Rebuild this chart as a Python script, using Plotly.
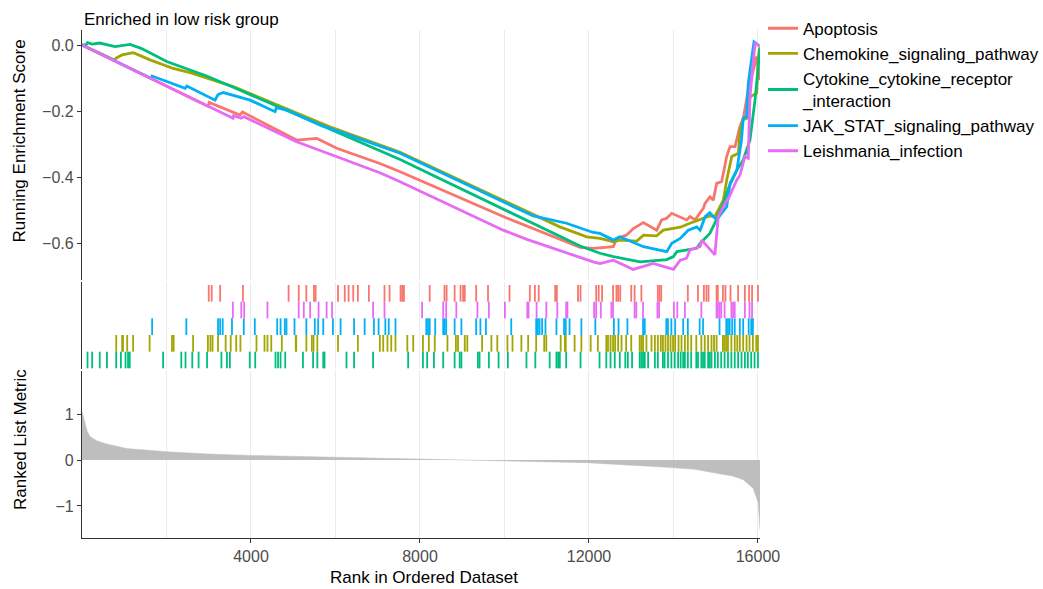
import plotly.graph_objects as go

FONT = "Liberation Sans, Arial, sans-serif"
N_GENES = 16048

# gene sets, in legend order
set_names = [
    "Apoptosis",
    "Chemokine_signaling_pathway",
    "Cytokine_cytokine_receptor_interaction",
    "JAK_STAT_signaling_pathway",
    "Leishmania_infection",
]
legend_labels = [
    "Apoptosis",
    "Chemokine_signaling_pathway",
    "Cytokine_cytokine_receptor<br>_interaction",
    "JAK_STAT_signaling_pathway",
    "Leishmania_infection",
]
set_colors = ["#F8766D", "#A3A500", "#00BF7D", "#00B0F6", "#E76BF3"]
# rug row of each set, counted from the bottom
rug_rows = [4, 1, 0, 2, 3]

# running enrichment score: rank positions and score values
apoptosis_rank = [0, 2990, 3010, 3740, 3800, 5080, 5560, 6030, 7050, 7530, 10010, 11790,
                  12103, 12576, 12655, 12892, 13050, 13287, 13602, 13720, 13838, 13957,
                  14312, 14391, 14510, 14628, 14707, 14746, 14864, 14943, 15022, 15141,
                  15259, 15338, 15456, 15575, 15654, 15770, 15890, 15970, 16048]
apoptosis_es = [0.0, -0.186, -0.174, -0.212, -0.203, -0.288, -0.283, -0.313, -0.359, -0.384,
                -0.522, -0.613, -0.616, -0.611, -0.586, -0.576, -0.556, -0.538, -0.561,
                -0.530, -0.525, -0.510, -0.530, -0.520, -0.530, -0.510, -0.495, -0.480,
                -0.460, -0.470, -0.419, -0.414, -0.338, -0.308, -0.308, -0.247, -0.222,
                -0.136, -0.076, -0.035, -0.106]

chemokine_rank = [0, 781, 800, 950, 1215, 1610, 2160, 2600, 3580, 5950, 7530, 10680, 11310,
                  11950, 12260, 12580, 12730, 13130, 13290, 13600, 13760, 14160, 14390,
                  14860, 14980, 15180, 15260, 15380, 15535, 15575, 15640, 15733, 15812,
                  15969, 16008, 16048]
chemokine_es = [0.0, -0.046, -0.040, -0.030, -0.023, -0.045, -0.071, -0.085, -0.126, -0.252,
                -0.325, -0.515, -0.551, -0.581, -0.586, -0.596, -0.591, -0.594, -0.576,
                -0.578, -0.561, -0.552, -0.540, -0.518, -0.520, -0.470, -0.409, -0.338,
                -0.328, -0.258, -0.227, -0.222, -0.157, -0.146, -0.035, -0.005]

cytokine_rank = [0, 95, 130, 240, 420, 590, 781, 1136, 1400, 2005, 2480, 2950, 3580, 5950,
                 7050, 7530, 11790, 12260, 12580, 13050, 13210, 13840, 14000, 14080, 14550,
                 14630, 14860, 14980, 15060, 15180, 15300, 15500, 15650, 15810, 15930,
                 16008, 16048]
cytokine_es = [0.0, 0.0, 0.007, 0.003, 0.006, 0.0, -0.005, 0.002, -0.010, -0.050, -0.071,
               -0.094, -0.128, -0.258, -0.320, -0.347, -0.609, -0.631, -0.641, -0.652,
               -0.657, -0.650, -0.641, -0.626, -0.616, -0.601, -0.571, -0.540, -0.515,
               -0.480, -0.434, -0.379, -0.348, -0.288, -0.167, -0.066, -0.010]

jak_stat_rank = [0, 1650, 1660, 2440, 2480, 3150, 3220, 3345, 3980, 4570, 4600, 4850, 5630,
                 7050, 7530, 10680, 11470, 12100, 12260, 12580, 12730, 13290, 13840, 13960,
                 14160, 14350, 14550, 14630, 14750, 14860, 15020, 15260, 15340, 15500,
                 15610, 15650, 15730, 15770, 15906, 16008]
jak_stat_es = [0.0, -0.102, -0.094, -0.131, -0.124, -0.167, -0.150, -0.144, -0.167, -0.202,
               -0.190, -0.197, -0.242, -0.306, -0.328, -0.518, -0.540, -0.568, -0.571,
               -0.591, -0.581, -0.611, -0.626, -0.601, -0.586, -0.561, -0.551, -0.561,
               -0.520, -0.508, -0.530, -0.490, -0.419, -0.379, -0.288, -0.222, -0.217,
               -0.116, 0.010, 0.0]

leishmania_rank = [0, 3575, 3590, 3770, 3830, 5080, 7050, 7530, 9970, 10530, 12100, 12260,
                   12576, 13050, 13130, 13520, 14000, 14160, 14310, 14390, 14630, 14670,
                   14980, 15060, 15220, 15300, 15500, 15575, 15690, 15770, 15810, 15875,
                   15930, 16048]
leishmania_es = [0.0, -0.222, -0.214, -0.222, -0.217, -0.293, -0.387, -0.414, -0.561, -0.589,
                 -0.657, -0.662, -0.652, -0.680, -0.677, -0.662, -0.680, -0.652, -0.646,
                 -0.621, -0.611, -0.591, -0.636, -0.520, -0.480, -0.465, -0.409, -0.394,
                 -0.338, -0.343, -0.157, -0.071, 0.005, -0.003]

# ranks of the genes of each set within the ordered list
apoptosis_hits = [3000, 3070, 3270, 3810, 4890, 5130, 5310, 5490, 5530, 6060, 6220, 6310,
                  6420, 6530, 6790, 7160, 7280, 7540, 7580, 7620, 8230, 8580, 8630, 8820,
                  8960, 9020, 9060, 9330, 9610, 10120, 10600, 10720, 10810, 11200, 11240,
                  11740, 11800, 12170, 12230, 12310, 12570, 12650, 12690, 12740, 13000,
                  13080, 13240, 13630, 13670, 13710, 14340, 14580, 14720, 14780, 14830,
                  15020, 15050, 15170, 15230, 15350, 15530, 15690, 15790, 15860, 16000]
chemokine_hits = [810, 950, 970, 1070, 1210, 1600, 2130, 2170, 2630, 2980, 3040, 3090, 3220,
                  3400, 3520, 3650, 3750, 4130, 4320, 4390, 4480, 4730, 5060, 5070, 5310,
                  5440, 5480, 5570, 6060, 6530, 7050, 7130, 7230, 7320, 7420, 7700, 7840,
                  8070, 8210, 8350, 8650, 8850, 8900, 9060, 9120, 9470, 9690, 9830, 10070,
                  10190, 10400, 10560, 10750, 10940, 10990, 11330, 11430, 11450, 11660,
                  11820, 12040, 12210, 12410, 12450, 12510, 12570, 12620, 12690, 12770,
                  12880, 13000, 13200, 13240, 13280, 13360, 13480, 13560, 13630, 13700,
                  13750, 13810, 13870, 13930, 13990, 14040, 14120, 14190, 14270, 14340,
                  14420, 14540, 14660, 14740, 14820, 14900, 14960, 15020, 15170, 15210,
                  15250, 15290, 15370, 15450, 15510, 15570, 15650, 15730, 15800, 15880,
                  15960, 16000]
cytokine_hits = [130, 240, 420, 590, 810, 920, 1030, 1090, 1130, 1920, 2350, 2450, 2610,
                 2760, 2960, 3300, 3430, 3500, 3970, 4100, 4580, 4640, 4700, 4810, 5230,
                 5470, 5570, 5710, 5740, 6260, 6440, 6890, 7720, 8070, 8170, 8330, 8550,
                 8820, 8940, 8980, 9370, 9410, 9630, 9860, 10080, 10520, 10730, 11070,
                 11230, 11270, 11310, 11460, 11800, 12250, 12410, 12510, 12610, 12730,
                 12860, 12920, 13020, 13200, 13240, 13280, 13320, 13400, 13560, 13630,
                 13750, 13790, 13870, 13950, 14030, 14110, 14170, 14230, 14270, 14340,
                 14420, 14540, 14580, 14660, 14700, 14740, 14820, 14860, 14900, 14980,
                 15050, 15130, 15210, 15290, 15370, 15450, 15530, 15610, 15690, 15760,
                 15840, 15920, 16000]
jak_stat_hits = [1660, 2470, 3220, 3270, 3330, 3550, 3830, 4090, 4620, 4700, 4800, 4840,
                 5030, 5310, 5510, 5590, 5710, 5940, 6120, 6440, 6690, 6910, 7020, 7180,
                 7260, 7420, 8150, 8190, 8230, 8360, 8550, 8580, 8620, 8820, 8980, 9330,
                 9430, 9560, 10160, 10750, 10790, 10830, 10890, 10970, 11230, 11410, 11450,
                 11540, 11820, 12150, 12590, 12700, 12910, 13280, 13320, 13830, 13870,
                 13950, 14040, 14230, 14340, 14620, 14700, 15090, 15250, 15290, 15330,
                 15390, 15450, 15570, 15650, 15780, 15840, 15880]
leishmania_hits = [3570, 3770, 3840, 4390, 5130, 5250, 5400, 5600, 5790, 5920, 6890, 7160,
                   8050, 8550, 8620, 8860, 9360, 9630, 10010, 10540, 10570, 10760, 10990,
                   11250, 11460, 11490, 12120, 12170, 12280, 12530, 12570, 13080, 13120,
                   13280, 13620, 13660, 14010, 14090, 14270, 14660, 15020, 15050, 15090,
                   15130, 15210, 15370, 15410, 15450, 15690, 15800, 15860]

# ranked list metric along the ordered list
metric_rank = [1, 16, 71, 126, 189, 347, 584, 1057, 2005, 3000, 3977, 5948, 7527, 8000,
               9000, 9894, 11946, 13838, 14500, 15022, 15400, 15654, 15890, 16008, 16030,
               16048]
metric_value = [1.05, 1.01, 0.80, 0.62, 0.51, 0.42, 0.35, 0.25, 0.18, 0.13, 0.10, 0.058,
                0.036, 0.015, 0.0, -0.015, -0.058, -0.159, -0.20, -0.29, -0.35, -0.43,
                -0.62, -0.94, -1.20, -1.52]

es_ticks = [0.0, -0.2, -0.4, -0.6]
es_tick_labels = ["0.0", "\u22120.2", "\u22120.4", "\u22120.6"]
metric_ticks = [1, 0, -1]
metric_tick_labels = ["1", "0", "\u22121"]
rank_ticks = [4000, 8000, 12000, 16000]
rank_tick_labels = ["4000", "8000", "12000", "16000"]

es_ranks = [apoptosis_rank, chemokine_rank, cytokine_rank, jak_stat_rank, leishmania_rank]
es_values = [apoptosis_es, chemokine_es, cytokine_es, jak_stat_es, leishmania_es]
hit_lists = [apoptosis_hits, chemokine_hits, cytokine_hits, jak_stat_hits, leishmania_hits]

fig = go.Figure()

# running enrichment score curves
for label, color, xr, ys in zip(legend_labels, set_colors, es_ranks, es_values):
    fig.add_trace(go.Scatter(
        x=xr, y=ys, mode="lines", name=label,
        line=dict(color=color, width=2.8),
        xaxis="x", yaxis="y", hoverinfo="skip",
    ))

# hit positions, one row per gene set
for name, color, hits, row in zip(set_names, set_colors, hit_lists, rug_rows):
    xs, ys = [], []
    for r in hits:
        xs += [r, r, None]
        ys += [row, row + 1, None]
    fig.add_trace(go.Scatter(
        x=xs, y=ys, mode="lines", showlegend=False,
        line=dict(color=color, width=1.8),
        xaxis="x", yaxis="y2", hoverinfo="skip",
    ))

# ranked list metric
fig.add_trace(go.Scatter(
    x=metric_rank, y=metric_value, mode="lines", fill="tozeroy",
    fillcolor="#BEBEBE", line=dict(color="#BEBEBE", width=0.5),
    showlegend=False, xaxis="x", yaxis="y3", hoverinfo="skip",
))

AXIS_LINE = "#333333"
TICK_FONT = dict(family=FONT, size=16, color="#4D4D4D")
GRID = "#EBEBEB"

fig.update_layout(
    width=1043, height=589,
    margin=dict(l=82, r=283, t=30, b=51, autoexpand=False),
    paper_bgcolor="white", plot_bgcolor="white",
    font=dict(family=FONT, color="black"),
    xaxis=dict(
        domain=[0, 1], range=[0, N_GENES], anchor="y3",
        tickvals=rank_ticks, ticktext=rank_tick_labels,
        ticks="outside", ticklen=4, tickcolor=AXIS_LINE,
        showline=True, linecolor=AXIS_LINE, linewidth=1.3,
        showgrid=True, gridcolor=GRID, gridwidth=1, zeroline=False,
        minor=dict(dtick=2000, tick0=0, showgrid=True, gridcolor=GRID, gridwidth=1),
        tickfont=TICK_FONT,
    ),
    yaxis=dict(
        domain=[0.50787, 1.0], range=[-0.712, 0.0455], anchor="x",
        tickvals=es_ticks, ticktext=es_tick_labels,
        ticks="outside", ticklen=4, tickcolor=AXIS_LINE,
        showline=True, linecolor=AXIS_LINE, linewidth=1.3,
        showgrid=False, zeroline=False, tickfont=TICK_FONT,
    ),
    yaxis2=dict(
        domain=[0.33268, 0.50394], range=[-0.04, 5.18], anchor="x",
        showticklabels=False, ticks="",
        showline=True, linecolor=AXIS_LINE, linewidth=1.3,
        showgrid=False, zeroline=False,
    ),
    yaxis3=dict(
        domain=[0.0, 0.32874], range=[-1.696, 1.935], anchor="x",
        tickvals=metric_ticks, ticktext=metric_tick_labels,
        ticks="outside", ticklen=4, tickcolor=AXIS_LINE,
        showline=True, linecolor=AXIS_LINE, linewidth=1.3,
        showgrid=False, zeroline=False, tickfont=TICK_FONT,
    ),
    legend=dict(
        x=(763 - 82) / 678, xanchor="left", y=1.038, yanchor="top",
        font=dict(family=FONT, size=17, color="black"),
        bgcolor="rgba(0,0,0,0)", borderwidth=0, itemwidth=30,
        traceorder="normal",
    ),
    annotations=[
        dict(text="Enriched in low risk group", xref="paper", yref="paper",
             x=0.0, y=1.0197, xanchor="left", yanchor="middle", showarrow=False,
             font=dict(family=FONT, size=17, color="black")),
        dict(text="Running Enrichment Score", xref="paper", yref="paper",
             x=(20 - 82) / 678, y=0.7805, xanchor="center", yanchor="middle",
             textangle=-90, showarrow=False,
             font=dict(family=FONT, size=17, color="black")),
        dict(text="Ranked List Metric", xref="paper", yref="paper",
             x=(20 - 82) / 678, y=0.1929, xanchor="center", yanchor="middle",
             textangle=-90, showarrow=False,
             font=dict(family=FONT, size=17, color="black")),
        dict(text="Rank in Ordered Dataset", xref="paper", yref="paper",
             x=(424 - 82) / 678, y=-0.0768, xanchor="center", yanchor="middle",
             showarrow=False, font=dict(family=FONT, size=17, color="black")),
    ],
)

fig.write_html("out.html")
